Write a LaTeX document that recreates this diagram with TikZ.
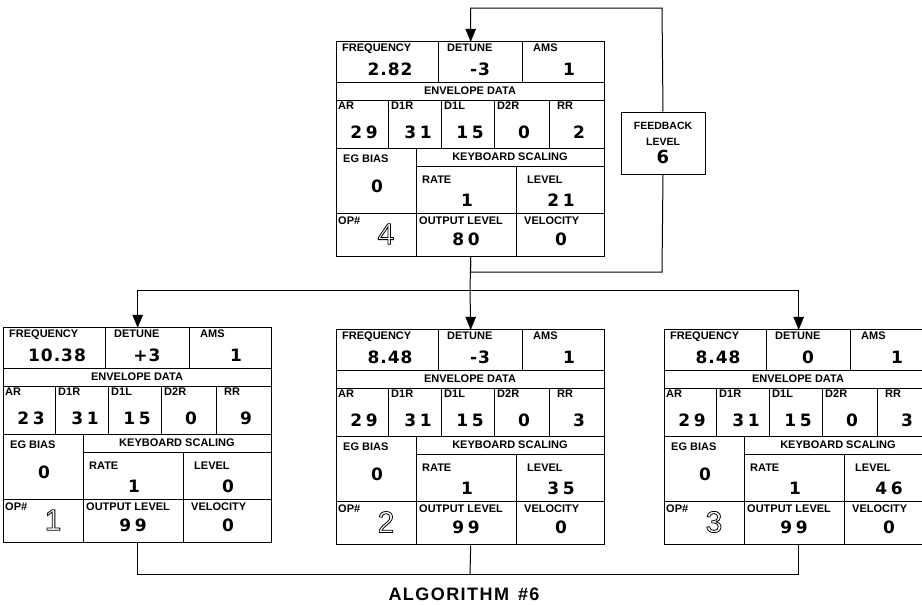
\documentclass[tikz,border=0pt]{standalone}
\usepackage{fontspec}
\usepackage{tikz}
\setmainfont{Liberation Sans}
\newfontfamily\valfont[LetterSpace=6]{DejaVu Sans}
\newfontfamily\widefont[LetterSpace=22]{DejaVu Sans}
\newfontfamily\algfont[LetterSpace=8]{Liberation Sans}
\newcommand{\hollow}[1]{\special{pdf:literal direct 1 Tr 0.8 w}#1\special{pdf:literal direct 0 Tr}}

\tikzset{
	opframe/.style={draw, line width=1.4pt, fill=white, inner sep=0pt, minimum width=268pt, minimum height=215pt, anchor=north west},
	cell/.style={line width=0.9pt},
	lbl/.style={anchor=north west, inner sep=0pt, font=\fontsize{11}{12}\selectfont\bfseries},
	hdr/.style={inner sep=0pt, font=\fontsize{11}{12}\selectfont\bfseries},
	val/.style={inner sep=0pt, font=\fontsize{17}{18}\valfont\bfseries},
	wideval/.style={inner sep=0pt, font=\fontsize{17}{18}\widefont\bfseries},
	opnum/.style={inner sep=0pt, font=\fontsize{30}{30}\selectfont},
	wire/.style={line width=1pt, draw=black},
	head/.style={draw=black, fill=black, line width=0.5pt, line join=miter},
}

\begin{document}
\begin{tikzpicture}[x=1pt, y=-1pt]
	\useasboundingbox (0,0) rectangle (922,605);
	\clip (0,0) rectangle (922,605);

	\foreach \nm/\px/\py/\op/\fr/\dt/\am/\ar/\dra/\dla/\drb/\rr/\eg/\rt/\lv/\ol/\vl in {
		op4/336/41/4/2.82/-3/1/29/31/15/0/2/0/1/21/80/0,
		op1/3/327/1/10.38/+3/1/23/31/15/0/9/0/1/0/99/0,
		op2/336/329/2/8.48/-3/1/29/31/15/0/3/0/1/35/99/0,
		op3/664/329/3/8.48/0/1/29/31/15/0/3/0/1/46/99/0} {
		\node[opframe] (\nm) at (\px,\py) {};
		\begin{scope}[shift={(\nm.north west)}]
			\draw[cell] (0,41) -- (268,41) (0,59) -- (268,59) (0,107) -- (268,107) (80,125) -- (268,125) (0,172) -- (268,172);
			\draw[cell] (102,0) -- (102,41) (186,0) -- (186,41);
			\draw[cell] (52,59) -- (52,107) (105,59) -- (105,107) (158,59) -- (158,107) (213,59) -- (213,107);
			\draw[cell] (80,107) -- (80,215) (180,125) -- (180,215);

			\node[lbl] (\nm-lfr) at (6,3) {FREQUENCY};
			\node[lbl] (\nm-ldt) at (111,3) {DETUNE};
			\node[lbl] (\nm-lam) at (197,3) {AMS};
			\node[hdr] (\nm-env) at (134,50) {ENVELOPE DATA};
			\node[lbl] (\nm-lar) at (2,61) {AR};
			\node[lbl] (\nm-ldra) at (55,61) {D1R};
			\node[lbl] (\nm-ldla) at (108,61) {D1L};
			\node[lbl] (\nm-ldrb) at (161,61) {D2R};
			\node[lbl] (\nm-lrr) at (221,61) {RR};
			\node[lbl] (\nm-leg) at (7,114) {EG BIAS};
			\node[hdr] (\nm-ks) at (174,116) {KEYBOARD SCALING};
			\node[lbl] (\nm-lrt) at (86,135) {RATE};
			\node[lbl] (\nm-llv) at (191,135) {LEVEL};
			\node[lbl] (\nm-lop) at (2,176) {OP\#};
			\node[lbl] (\nm-lol) at (83,176) {OUTPUT LEVEL};
			\node[lbl] (\nm-lvl) at (188,176) {VELOCITY};

			\node[val] (\nm-fr) at (54,28) {\fr};
			\node[val] (\nm-dt) at (144,28) {\dt};
			\node[val] (\nm-am) at (233,28) {\am};
			\node[wideval] (\nm-ar) at (28,91) {\ar};
			\node[wideval] (\nm-dra) at (82,91) {\dra};
			\node[wideval] (\nm-dla) at (134,91) {\dla};
			\node[wideval] (\nm-drb) at (188,91) {\drb};
			\node[wideval] (\nm-rr) at (243,91) {\rr};
			\node[val] (\nm-eg) at (41,145) {\eg};
			\node[val] (\nm-rt) at (131,159) {\rt};
			\node[wideval] (\nm-lv) at (225,159) {\lv};
			\node[opnum] (\nm-op) at (50,193) {\hollow{\op}};
			\node[wideval] (\nm-ol) at (130,198) {\ol};
			\node[val] (\nm-vl) at (225,198) {\vl};
		\end{scope}
	}

	\node[draw, line width=1pt, fill=white, minimum width=84pt, minimum height=62pt, align=center, inner sep=0pt, font=\fontsize{10.5}{16}\selectfont\bfseries] (fb) at (663,143) {FEEDBACK\\LEVEL\\[2pt]{\fontsize{18}{18}\valfont 6}};

	\coordinate (fbdown) at (662,272);
	\coordinate (fbup) at (662,8);
	\coordinate (bus) at (470,290);
	\coordinate (mix) at (470,574);

	% feedback loop round op 4
	\draw[wire] (op4.south) |- (fbdown) -- (fb.south);
	\draw[wire] (fb.north) -- (fbup) -| (op4.north);
	\path[head] (op4.north) -- ++(-5,-12) -- ++(10,0) -- cycle;

	% op 4 modulates 1, 2 and 3
	\draw[wire] (op4.south) -- (bus);
	\draw[wire] (bus) -| (op1.north);
	\draw[wire] (bus) -| (op3.north);
	\draw[wire] (bus) -- (op2.north);
	\path[head] (op1.north) -- ++(-5,-12) -- ++(10,0) -- cycle;
	\path[head] (op2.north) -- ++(-5,-12) -- ++(10,0) -- cycle;
	\path[head] (op3.north) -- ++(-5,-12) -- ++(10,0) -- cycle;

	% carriers out
	\draw[wire] (op1.south) |- (op3.south |- mix) -- (op3.south);
	\draw[wire] (op2.south) -- (mix);

	\node[font=\fontsize{18}{18}\algfont\bfseries] (alg) at (464,594) {ALGORITHM\hspace{9pt}\#6};
\end{tikzpicture}
\end{document}
